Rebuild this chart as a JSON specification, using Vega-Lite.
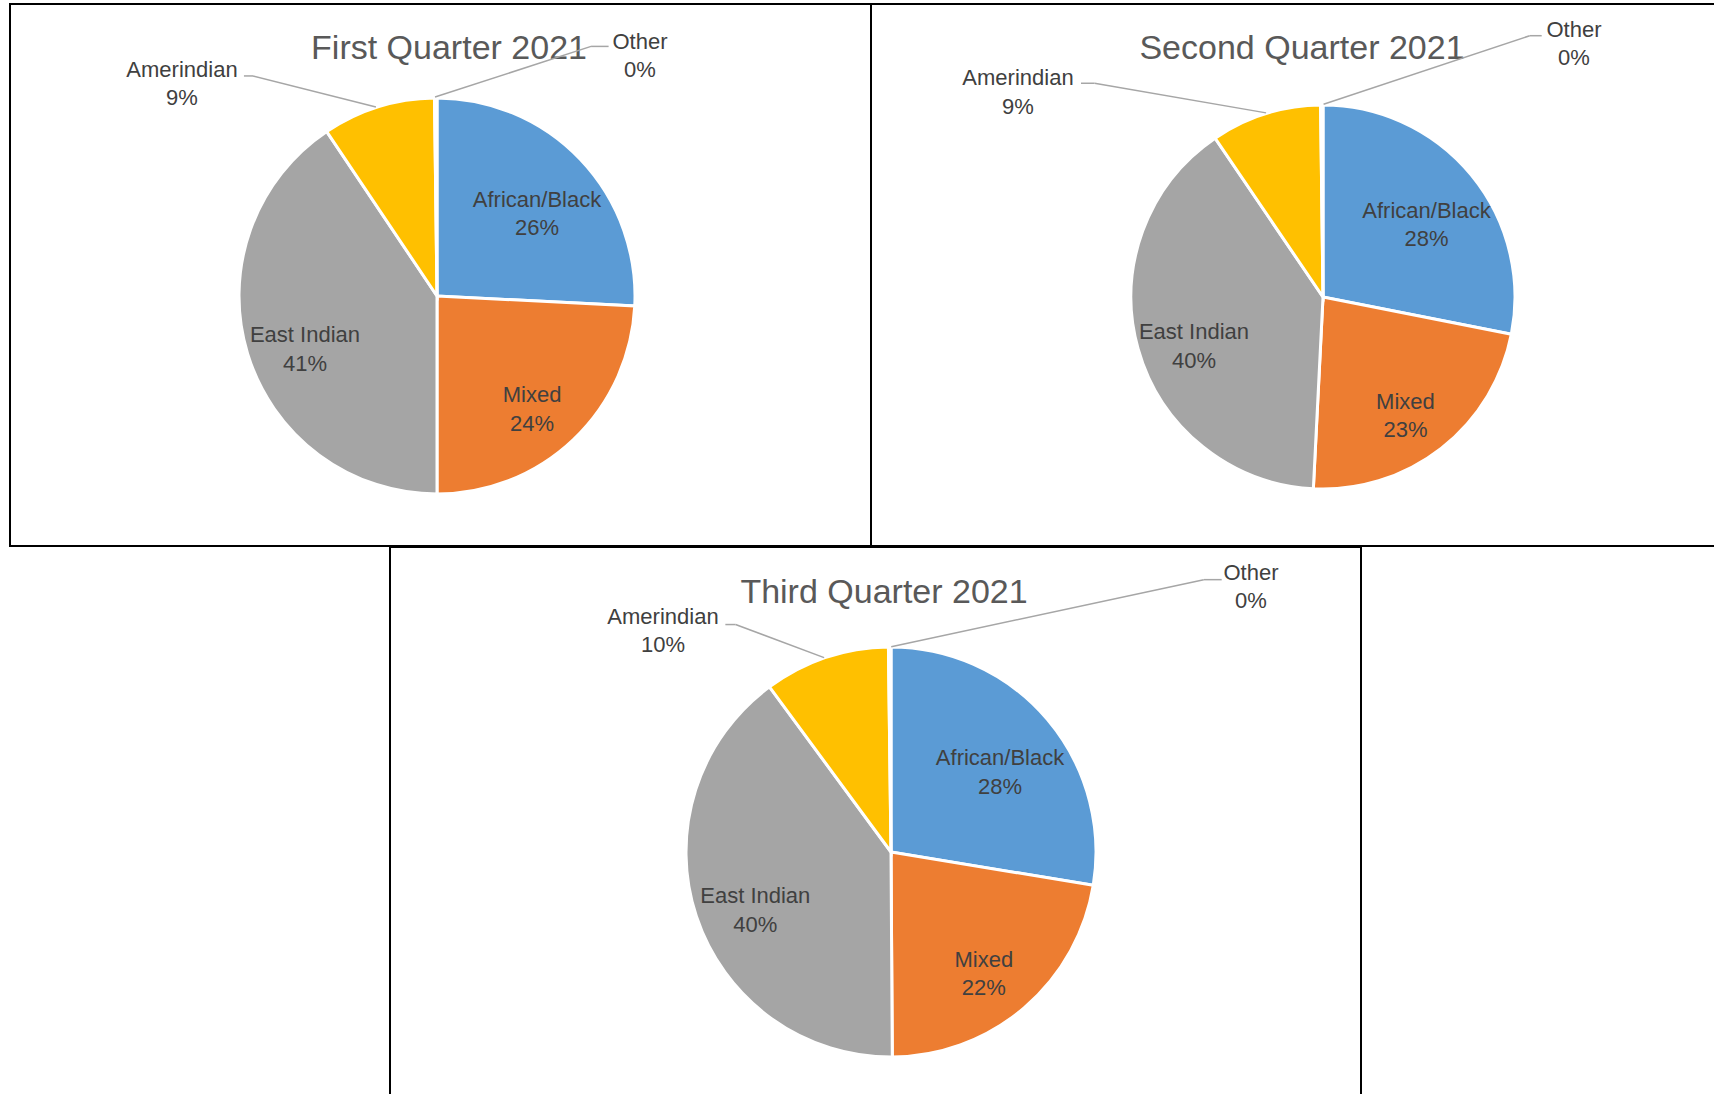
{
  "$schema": "https://vega.github.io/schema/vega-lite/v6.json",
  "padding": {"left": 9, "top": 3, "right": 0, "bottom": 0},
  "spacing": -2,
  "background": "#ffffff",
  "config": {"view": {"stroke": null}},
  "datasets": {
    "pies": [
      {"quarter": "Q1", "category": "African/Black", "order": 1, "share": 0.258},
      {"quarter": "Q1", "category": "Mixed", "order": 2, "share": 0.242},
      {"quarter": "Q1", "category": "East Indian", "order": 3, "share": 0.406},
      {"quarter": "Q1", "category": "Amerindian", "order": 4, "share": 0.092},
      {"quarter": "Q1", "category": "Other", "order": 5, "share": 0.002},
      {"quarter": "Q2", "category": "African/Black", "order": 1, "share": 0.281},
      {"quarter": "Q2", "category": "Mixed", "order": 2, "share": 0.227},
      {"quarter": "Q2", "category": "East Indian", "order": 3, "share": 0.397},
      {"quarter": "Q2", "category": "Amerindian", "order": 4, "share": 0.093},
      {"quarter": "Q2", "category": "Other", "order": 5, "share": 0.002},
      {"quarter": "Q3", "category": "African/Black", "order": 1, "share": 0.276},
      {"quarter": "Q3", "category": "Mixed", "order": 2, "share": 0.223},
      {"quarter": "Q3", "category": "East Indian", "order": 3, "share": 0.400},
      {"quarter": "Q3", "category": "Amerindian", "order": 4, "share": 0.099},
      {"quarter": "Q3", "category": "Other", "order": 5, "share": 0.002}
    ]
  },
  "vconcat": [
    {
      "bounds": "flush",
      "spacing": 0,
      "hconcat": [
        {
          "width": 861, "height": 542,
          "view": {"stroke": "#000000", "strokeWidth": 2},
          "data": {"name": "pies"},
          "transform": [{"filter": "datum.quarter === 'Q1'"}],
          "layer": [
            {"mark": {"type": "arc", "outerRadius": 198, "stroke": "#ffffff", "strokeWidth": 3},
             "encoding": {
               "x": {"datum": 0, "type": "quantitative", "scale": {"domain": [-2.1675, 2.203], "nice": false, "zero": false}, "axis": null},
               "y": {"datum": 0, "type": "quantitative", "scale": {"domain": [-1.269, 1.4822], "nice": false, "zero": false}, "axis": null},
               "theta": {"field": "share", "type": "quantitative", "stack": true},
               "order": {"field": "order", "type": "quantitative"},
               "color": {"field": "category", "type": "nominal", "legend": null, "scale": {"domain": ["African/Black", "Mixed", "East Indian", "Amerindian", "Other"], "range": ["#5B9BD5", "#ED7D31", "#A5A5A5", "#FFC000", "#4472C4"]}}}},
            {"mark": {"type": "text", "radius": 138, "dy": 6, "font": "Liberation Sans", "fontSize": 22, "fill": "#404040", "align": "center", "baseline": "alphabetic"},
             "encoding": {
               "x": {"datum": 0, "type": "quantitative", "scale": {"domain": [-2.1675, 2.203], "nice": false, "zero": false}, "axis": null},
               "y": {"datum": 0, "type": "quantitative", "scale": {"domain": [-1.269, 1.4822], "nice": false, "zero": false}, "axis": null},
               "theta": {"field": "share", "type": "quantitative", "stack": true},
               "order": {"field": "order", "type": "quantitative"},
               "detail": {"field": "category", "type": "nominal"},
               "text": {"field": "category", "type": "nominal", "condition": {"test": "datum.category === 'Amerindian' || datum.category === 'Other'", "value": ""}}}},
            {"mark": {"type": "text", "radius": 138, "dy": 34.5, "font": "Liberation Sans", "fontSize": 22, "fill": "#404040", "align": "center", "baseline": "alphabetic"},
             "encoding": {
               "x": {"datum": 0, "type": "quantitative", "scale": {"domain": [-2.1675, 2.203], "nice": false, "zero": false}, "axis": null},
               "y": {"datum": 0, "type": "quantitative", "scale": {"domain": [-1.269, 1.4822], "nice": false, "zero": false}, "axis": null},
               "theta": {"field": "share", "type": "quantitative", "stack": true},
               "order": {"field": "order", "type": "quantitative"},
               "detail": {"field": "category", "type": "nominal"},
               "text": {"field": "share", "type": "quantitative", "format": ".0%", "condition": {"test": "datum.category === 'Amerindian' || datum.category === 'Other'", "value": ""}}}},
            {"transform": [{"filter": "datum.category === 'Amerindian'"}],
             "mark": {"type": "text", "font": "Liberation Sans", "fontSize": 22, "fill": "#404040", "align": "center", "baseline": "alphabetic"},
             "encoding": {
               "x": {"datum": -1.2944, "type": "quantitative", "scale": {"domain": [-2.1675, 2.203], "nice": false, "zero": false}, "axis": null},
               "y": {"datum": 1.1117, "type": "quantitative", "scale": {"domain": [-1.269, 1.4822], "nice": false, "zero": false}, "axis": null},
               "text": {"field": "category", "type": "nominal"}}},
            {"transform": [{"filter": "datum.category === 'Amerindian'"}],
             "mark": {"type": "text", "dy": 28.5, "font": "Liberation Sans", "fontSize": 22, "fill": "#404040", "align": "center", "baseline": "alphabetic"},
             "encoding": {
               "x": {"datum": -1.2944, "type": "quantitative", "scale": {"domain": [-2.1675, 2.203], "nice": false, "zero": false}, "axis": null},
               "y": {"datum": 1.1117, "type": "quantitative", "scale": {"domain": [-1.269, 1.4822], "nice": false, "zero": false}, "axis": null},
               "text": {"field": "share", "type": "quantitative", "format": ".0%"}}},
            {"transform": [{"filter": "datum.category === 'Other'"}],
             "mark": {"type": "text", "font": "Liberation Sans", "fontSize": 22, "fill": "#404040", "align": "center", "baseline": "alphabetic"},
             "encoding": {
               "x": {"datum": 1.0305, "type": "quantitative", "scale": {"domain": [-2.1675, 2.203], "nice": false, "zero": false}, "axis": null},
               "y": {"datum": 1.2538, "type": "quantitative", "scale": {"domain": [-1.269, 1.4822], "nice": false, "zero": false}, "axis": null},
               "text": {"field": "category", "type": "nominal"}}},
            {"transform": [{"filter": "datum.category === 'Other'"}],
             "mark": {"type": "text", "dy": 28.5, "font": "Liberation Sans", "fontSize": 22, "fill": "#404040", "align": "center", "baseline": "alphabetic"},
             "encoding": {
               "x": {"datum": 1.0305, "type": "quantitative", "scale": {"domain": [-2.1675, 2.203], "nice": false, "zero": false}, "axis": null},
               "y": {"datum": 1.2538, "type": "quantitative", "scale": {"domain": [-1.269, 1.4822], "nice": false, "zero": false}, "axis": null},
               "text": {"field": "share", "type": "quantitative", "format": ".0%"}}},
            {"transform": [{"filter": "datum.category === 'Other'"}],
             "mark": {"type": "text", "font": "Liberation Sans", "fontSize": 34, "fill": "#595959", "align": "center", "baseline": "alphabetic"},
             "encoding": {
               "x": {"datum": 0.0609, "type": "quantitative", "scale": {"domain": [-2.1675, 2.203], "nice": false, "zero": false}, "axis": null},
               "y": {"datum": 1.203, "type": "quantitative", "scale": {"domain": [-1.269, 1.4822], "nice": false, "zero": false}, "axis": null},
               "text": {"value": "First Quarter 2021"}}},
            {"transform": [{"filter": "datum.category === 'Other'"}],
             "mark": {"type": "rule", "stroke": "#A6A6A6", "strokeWidth": 1.5},
             "encoding": {
               "x": {"datum": -0.980, "type": "quantitative", "scale": {"domain": [-2.1675, 2.203], "nice": false, "zero": false}, "axis": null},
               "y": {"datum": 1.117, "type": "quantitative", "scale": {"domain": [-1.269, 1.4822], "nice": false, "zero": false}, "axis": null},
               "x2": {"datum": -0.934}, "y2": {"datum": 1.117}}},
            {"transform": [{"filter": "datum.category === 'Other'"}],
             "mark": {"type": "rule", "stroke": "#A6A6A6", "strokeWidth": 1.5},
             "encoding": {
               "x": {"datum": -0.934, "type": "quantitative", "scale": {"domain": [-2.1675, 2.203], "nice": false, "zero": false}, "axis": null},
               "y": {"datum": 1.117, "type": "quantitative", "scale": {"domain": [-1.269, 1.4822], "nice": false, "zero": false}, "axis": null},
               "x2": {"datum": -0.310}, "y2": {"datum": 0.959}}},
            {"transform": [{"filter": "datum.category === 'Other'"}],
             "mark": {"type": "rule", "stroke": "#A6A6A6", "strokeWidth": 1.5},
             "encoding": {
               "x": {"datum": 0.871, "type": "quantitative", "scale": {"domain": [-2.1675, 2.203], "nice": false, "zero": false}, "axis": null},
               "y": {"datum": 1.267, "type": "quantitative", "scale": {"domain": [-1.269, 1.4822], "nice": false, "zero": false}, "axis": null},
               "x2": {"datum": 0.782}, "y2": {"datum": 1.267}}},
            {"transform": [{"filter": "datum.category === 'Other'"}],
             "mark": {"type": "rule", "stroke": "#A6A6A6", "strokeWidth": 1.5},
             "encoding": {
               "x": {"datum": 0.782, "type": "quantitative", "scale": {"domain": [-2.1675, 2.203], "nice": false, "zero": false}, "axis": null},
               "y": {"datum": 1.267, "type": "quantitative", "scale": {"domain": [-1.269, 1.4822], "nice": false, "zero": false}, "axis": null},
               "x2": {"datum": -0.010}, "y2": {"datum": 1.010}}}
          ]
        },
        {
          "width": 843, "height": 542,
          "view": {"stroke": "#000000", "strokeWidth": 2, "strokeDash": [843, 542, 1385]},
          "data": {"name": "pies"},
          "transform": [{"filter": "datum.quarter === 'Q2'"}],
          "layer": [
            {"mark": {"type": "arc", "outerRadius": 192, "stroke": "#ffffff", "strokeWidth": 3},
             "encoding": {
               "x": {"datum": 0, "type": "quantitative", "scale": {"domain": [-2.3665, 2.0471], "nice": false, "zero": false}, "axis": null},
               "y": {"datum": 0, "type": "quantitative", "scale": {"domain": [-1.3037, 1.534], "nice": false, "zero": false}, "axis": null},
               "theta": {"field": "share", "type": "quantitative", "stack": true},
               "order": {"field": "order", "type": "quantitative"},
               "color": {"field": "category", "type": "nominal", "legend": null, "scale": {"domain": ["African/Black", "Mixed", "East Indian", "Amerindian", "Other"], "range": ["#5B9BD5", "#ED7D31", "#A5A5A5", "#FFC000", "#4472C4"]}}}},
            {"mark": {"type": "text", "radius": 134, "dy": 6, "font": "Liberation Sans", "fontSize": 22, "fill": "#404040", "align": "center", "baseline": "alphabetic"},
             "encoding": {
               "x": {"datum": 0, "type": "quantitative", "scale": {"domain": [-2.3665, 2.0471], "nice": false, "zero": false}, "axis": null},
               "y": {"datum": 0, "type": "quantitative", "scale": {"domain": [-1.3037, 1.534], "nice": false, "zero": false}, "axis": null},
               "theta": {"field": "share", "type": "quantitative", "stack": true},
               "order": {"field": "order", "type": "quantitative"},
               "detail": {"field": "category", "type": "nominal"},
               "text": {"field": "category", "type": "nominal", "condition": {"test": "datum.category === 'Amerindian' || datum.category === 'Other'", "value": ""}}}},
            {"mark": {"type": "text", "radius": 134, "dy": 34.5, "font": "Liberation Sans", "fontSize": 22, "fill": "#404040", "align": "center", "baseline": "alphabetic"},
             "encoding": {
               "x": {"datum": 0, "type": "quantitative", "scale": {"domain": [-2.3665, 2.0471], "nice": false, "zero": false}, "axis": null},
               "y": {"datum": 0, "type": "quantitative", "scale": {"domain": [-1.3037, 1.534], "nice": false, "zero": false}, "axis": null},
               "theta": {"field": "share", "type": "quantitative", "stack": true},
               "order": {"field": "order", "type": "quantitative"},
               "detail": {"field": "category", "type": "nominal"},
               "text": {"field": "share", "type": "quantitative", "format": ".0%", "condition": {"test": "datum.category === 'Amerindian' || datum.category === 'Other'", "value": ""}}}},
            {"transform": [{"filter": "datum.category === 'Amerindian'"}],
             "mark": {"type": "text", "font": "Liberation Sans", "fontSize": 22, "fill": "#404040", "align": "center", "baseline": "alphabetic"},
             "encoding": {
               "x": {"datum": -1.5969, "type": "quantitative", "scale": {"domain": [-2.3665, 2.0471], "nice": false, "zero": false}, "axis": null},
               "y": {"datum": 1.1099, "type": "quantitative", "scale": {"domain": [-1.3037, 1.534], "nice": false, "zero": false}, "axis": null},
               "text": {"field": "category", "type": "nominal"}}},
            {"transform": [{"filter": "datum.category === 'Amerindian'"}],
             "mark": {"type": "text", "dy": 28.5, "font": "Liberation Sans", "fontSize": 22, "fill": "#404040", "align": "center", "baseline": "alphabetic"},
             "encoding": {
               "x": {"datum": -1.5969, "type": "quantitative", "scale": {"domain": [-2.3665, 2.0471], "nice": false, "zero": false}, "axis": null},
               "y": {"datum": 1.1099, "type": "quantitative", "scale": {"domain": [-1.3037, 1.534], "nice": false, "zero": false}, "axis": null},
               "text": {"field": "share", "type": "quantitative", "format": ".0%"}}},
            {"transform": [{"filter": "datum.category === 'Other'"}],
             "mark": {"type": "text", "font": "Liberation Sans", "fontSize": 22, "fill": "#404040", "align": "center", "baseline": "alphabetic"},
             "encoding": {
               "x": {"datum": 1.3141, "type": "quantitative", "scale": {"domain": [-2.3665, 2.0471], "nice": false, "zero": false}, "axis": null},
               "y": {"datum": 1.3623, "type": "quantitative", "scale": {"domain": [-1.3037, 1.534], "nice": false, "zero": false}, "axis": null},
               "text": {"field": "category", "type": "nominal"}}},
            {"transform": [{"filter": "datum.category === 'Other'"}],
             "mark": {"type": "text", "dy": 28.5, "font": "Liberation Sans", "fontSize": 22, "fill": "#404040", "align": "center", "baseline": "alphabetic"},
             "encoding": {
               "x": {"datum": 1.3141, "type": "quantitative", "scale": {"domain": [-2.3665, 2.0471], "nice": false, "zero": false}, "axis": null},
               "y": {"datum": 1.3623, "type": "quantitative", "scale": {"domain": [-1.3037, 1.534], "nice": false, "zero": false}, "axis": null},
               "text": {"field": "share", "type": "quantitative", "format": ".0%"}}},
            {"transform": [{"filter": "datum.category === 'Other'"}],
             "mark": {"type": "text", "font": "Liberation Sans", "fontSize": 34, "fill": "#595959", "align": "center", "baseline": "alphabetic"},
             "encoding": {
               "x": {"datum": -0.110, "type": "quantitative", "scale": {"domain": [-2.3665, 2.0471], "nice": false, "zero": false}, "axis": null},
               "y": {"datum": 1.246, "type": "quantitative", "scale": {"domain": [-1.3037, 1.534], "nice": false, "zero": false}, "axis": null},
               "text": {"value": "Second Quarter 2021"}}},
            {"transform": [{"filter": "datum.category === 'Other'"}],
             "mark": {"type": "rule", "stroke": "#A6A6A6", "strokeWidth": 1.5},
             "encoding": {
               "x": {"datum": -1.267, "type": "quantitative", "scale": {"domain": [-2.3665, 2.0471], "nice": false, "zero": false}, "axis": null},
               "y": {"datum": 1.119, "type": "quantitative", "scale": {"domain": [-1.3037, 1.534], "nice": false, "zero": false}, "axis": null},
               "x2": {"datum": -1.196}, "y2": {"datum": 1.119}}},
            {"transform": [{"filter": "datum.category === 'Other'"}],
             "mark": {"type": "rule", "stroke": "#A6A6A6", "strokeWidth": 1.5},
             "encoding": {
               "x": {"datum": -1.196, "type": "quantitative", "scale": {"domain": [-2.3665, 2.0471], "nice": false, "zero": false}, "axis": null},
               "y": {"datum": 1.119, "type": "quantitative", "scale": {"domain": [-1.3037, 1.534], "nice": false, "zero": false}, "axis": null},
               "x2": {"datum": -0.298}, "y2": {"datum": 0.964}}},
            {"transform": [{"filter": "datum.category === 'Other'"}],
             "mark": {"type": "rule", "stroke": "#A6A6A6", "strokeWidth": 1.5},
             "encoding": {
               "x": {"datum": 1.145, "type": "quantitative", "scale": {"domain": [-2.3665, 2.0471], "nice": false, "zero": false}, "axis": null},
               "y": {"datum": 1.368, "type": "quantitative", "scale": {"domain": [-1.3037, 1.534], "nice": false, "zero": false}, "axis": null},
               "x2": {"datum": 1.082}, "y2": {"datum": 1.368}}},
            {"transform": [{"filter": "datum.category === 'Other'"}],
             "mark": {"type": "rule", "stroke": "#A6A6A6", "strokeWidth": 1.5},
             "encoding": {
               "x": {"datum": 1.082, "type": "quantitative", "scale": {"domain": [-2.3665, 2.0471], "nice": false, "zero": false}, "axis": null},
               "y": {"datum": 1.368, "type": "quantitative", "scale": {"domain": [-1.3037, 1.534], "nice": false, "zero": false}, "axis": null},
               "x2": {"datum": 0.003}, "y2": {"datum": 1.009}}}
          ]
        }
      ]
    },
    {
      "bounds": "flush",
      "spacing": 0,
      "hconcat": [
        {
          "width": 380, "height": 547,
          "view": {"stroke": null, "fill": "#ffffff"},
          "data": {"values": [{}]},
          "mark": {"type": "text"},
          "encoding": {"text": {"value": ""}}
        },
        {
          "width": 971, "height": 547,
          "view": {"stroke": "#000000", "strokeWidth": 2, "strokeDash": [1518, 971, 547]},
          "data": {"name": "pies"},
          "transform": [{"filter": "datum.quarter === 'Q3'"}],
          "layer": [
            {"mark": {"type": "arc", "outerRadius": 205, "stroke": "#ffffff", "strokeWidth": 3},
             "encoding": {
               "x": {"datum": 0, "type": "quantitative", "scale": {"domain": [-2.4559, 2.3039], "nice": false, "zero": false}, "axis": null},
               "y": {"datum": 0, "type": "quantitative", "scale": {"domain": [-1.1863, 1.4951], "nice": false, "zero": false}, "axis": null},
               "theta": {"field": "share", "type": "quantitative", "stack": true},
               "order": {"field": "order", "type": "quantitative"},
               "color": {"field": "category", "type": "nominal", "legend": null, "scale": {"domain": ["African/Black", "Mixed", "East Indian", "Amerindian", "Other"], "range": ["#5B9BD5", "#ED7D31", "#A5A5A5", "#FFC000", "#4472C4"]}}}},
            {"mark": {"type": "text", "radius": 143, "dy": 6, "font": "Liberation Sans", "fontSize": 22, "fill": "#404040", "align": "center", "baseline": "alphabetic"},
             "encoding": {
               "x": {"datum": 0, "type": "quantitative", "scale": {"domain": [-2.4559, 2.3039], "nice": false, "zero": false}, "axis": null},
               "y": {"datum": 0, "type": "quantitative", "scale": {"domain": [-1.1863, 1.4951], "nice": false, "zero": false}, "axis": null},
               "theta": {"field": "share", "type": "quantitative", "stack": true},
               "order": {"field": "order", "type": "quantitative"},
               "detail": {"field": "category", "type": "nominal"},
               "text": {"field": "category", "type": "nominal", "condition": {"test": "datum.category === 'Amerindian' || datum.category === 'Other'", "value": ""}}}},
            {"mark": {"type": "text", "radius": 143, "dy": 34.5, "font": "Liberation Sans", "fontSize": 22, "fill": "#404040", "align": "center", "baseline": "alphabetic"},
             "encoding": {
               "x": {"datum": 0, "type": "quantitative", "scale": {"domain": [-2.4559, 2.3039], "nice": false, "zero": false}, "axis": null},
               "y": {"datum": 0, "type": "quantitative", "scale": {"domain": [-1.1863, 1.4951], "nice": false, "zero": false}, "axis": null},
               "theta": {"field": "share", "type": "quantitative", "stack": true},
               "order": {"field": "order", "type": "quantitative"},
               "detail": {"field": "category", "type": "nominal"},
               "text": {"field": "share", "type": "quantitative", "format": ".0%", "condition": {"test": "datum.category === 'Amerindian' || datum.category === 'Other'", "value": ""}}}},
            {"transform": [{"filter": "datum.category === 'Amerindian'"}],
             "mark": {"type": "text", "font": "Liberation Sans", "fontSize": 22, "fill": "#404040", "align": "center", "baseline": "alphabetic"},
             "encoding": {
               "x": {"datum": -1.1176, "type": "quantitative", "scale": {"domain": [-2.4559, 2.3039], "nice": false, "zero": false}, "axis": null},
               "y": {"datum": 1.1186, "type": "quantitative", "scale": {"domain": [-1.1863, 1.4951], "nice": false, "zero": false}, "axis": null},
               "text": {"field": "category", "type": "nominal"}}},
            {"transform": [{"filter": "datum.category === 'Amerindian'"}],
             "mark": {"type": "text", "dy": 28.5, "font": "Liberation Sans", "fontSize": 22, "fill": "#404040", "align": "center", "baseline": "alphabetic"},
             "encoding": {
               "x": {"datum": -1.1176, "type": "quantitative", "scale": {"domain": [-2.4559, 2.3039], "nice": false, "zero": false}, "axis": null},
               "y": {"datum": 1.1186, "type": "quantitative", "scale": {"domain": [-1.1863, 1.4951], "nice": false, "zero": false}, "axis": null},
               "text": {"field": "share", "type": "quantitative", "format": ".0%"}}},
            {"transform": [{"filter": "datum.category === 'Other'"}],
             "mark": {"type": "text", "font": "Liberation Sans", "fontSize": 22, "fill": "#404040", "align": "center", "baseline": "alphabetic"},
             "encoding": {
               "x": {"datum": 1.7647, "type": "quantitative", "scale": {"domain": [-2.4559, 2.3039], "nice": false, "zero": false}, "axis": null},
               "y": {"datum": 1.3353, "type": "quantitative", "scale": {"domain": [-1.1863, 1.4951], "nice": false, "zero": false}, "axis": null},
               "text": {"field": "category", "type": "nominal"}}},
            {"transform": [{"filter": "datum.category === 'Other'"}],
             "mark": {"type": "text", "dy": 28.5, "font": "Liberation Sans", "fontSize": 22, "fill": "#404040", "align": "center", "baseline": "alphabetic"},
             "encoding": {
               "x": {"datum": 1.7647, "type": "quantitative", "scale": {"domain": [-2.4559, 2.3039], "nice": false, "zero": false}, "axis": null},
               "y": {"datum": 1.3353, "type": "quantitative", "scale": {"domain": [-1.1863, 1.4951], "nice": false, "zero": false}, "axis": null},
               "text": {"field": "share", "type": "quantitative", "format": ".0%"}}},
            {"transform": [{"filter": "datum.category === 'Other'"}],
             "mark": {"type": "text", "font": "Liberation Sans", "fontSize": 34, "fill": "#595959", "align": "center", "baseline": "alphabetic"},
             "encoding": {
               "x": {"datum": -0.0343, "type": "quantitative", "scale": {"domain": [-2.4559, 2.3039], "nice": false, "zero": false}, "axis": null},
               "y": {"datum": 1.2206, "type": "quantitative", "scale": {"domain": [-1.1863, 1.4951], "nice": false, "zero": false}, "axis": null},
               "text": {"value": "Third Quarter 2021"}}},
            {"transform": [{"filter": "datum.category === 'Other'"}],
             "mark": {"type": "rule", "stroke": "#A6A6A6", "strokeWidth": 1.5},
             "encoding": {
               "x": {"datum": -0.812, "type": "quantitative", "scale": {"domain": [-2.4559, 2.3039], "nice": false, "zero": false}, "axis": null},
               "y": {"datum": 1.115, "type": "quantitative", "scale": {"domain": [-1.1863, 1.4951], "nice": false, "zero": false}, "axis": null},
               "x2": {"datum": -0.762}, "y2": {"datum": 1.115}}},
            {"transform": [{"filter": "datum.category === 'Other'"}],
             "mark": {"type": "rule", "stroke": "#A6A6A6", "strokeWidth": 1.5},
             "encoding": {
               "x": {"datum": -0.762, "type": "quantitative", "scale": {"domain": [-2.4559, 2.3039], "nice": false, "zero": false}, "axis": null},
               "y": {"datum": 1.115, "type": "quantitative", "scale": {"domain": [-1.1863, 1.4951], "nice": false, "zero": false}, "axis": null},
               "x2": {"datum": -0.328}, "y2": {"datum": 0.953}}},
            {"transform": [{"filter": "datum.category === 'Other'"}],
             "mark": {"type": "rule", "stroke": "#A6A6A6", "strokeWidth": 1.5},
             "encoding": {
               "x": {"datum": 1.621, "type": "quantitative", "scale": {"domain": [-2.4559, 2.3039], "nice": false, "zero": false}, "axis": null},
               "y": {"datum": 1.335, "type": "quantitative", "scale": {"domain": [-1.1863, 1.4951], "nice": false, "zero": false}, "axis": null},
               "x2": {"datum": 1.533}, "y2": {"datum": 1.335}}},
            {"transform": [{"filter": "datum.category === 'Other'"}],
             "mark": {"type": "rule", "stroke": "#A6A6A6", "strokeWidth": 1.5},
             "encoding": {
               "x": {"datum": 1.533, "type": "quantitative", "scale": {"domain": [-2.4559, 2.3039], "nice": false, "zero": false}, "axis": null},
               "y": {"datum": 1.335, "type": "quantitative", "scale": {"domain": [-1.1863, 1.4951], "nice": false, "zero": false}, "axis": null},
               "x2": {"datum": 0.001}, "y2": {"datum": 1.006}}}
          ]
        }
      ]
    }
  ]
}
